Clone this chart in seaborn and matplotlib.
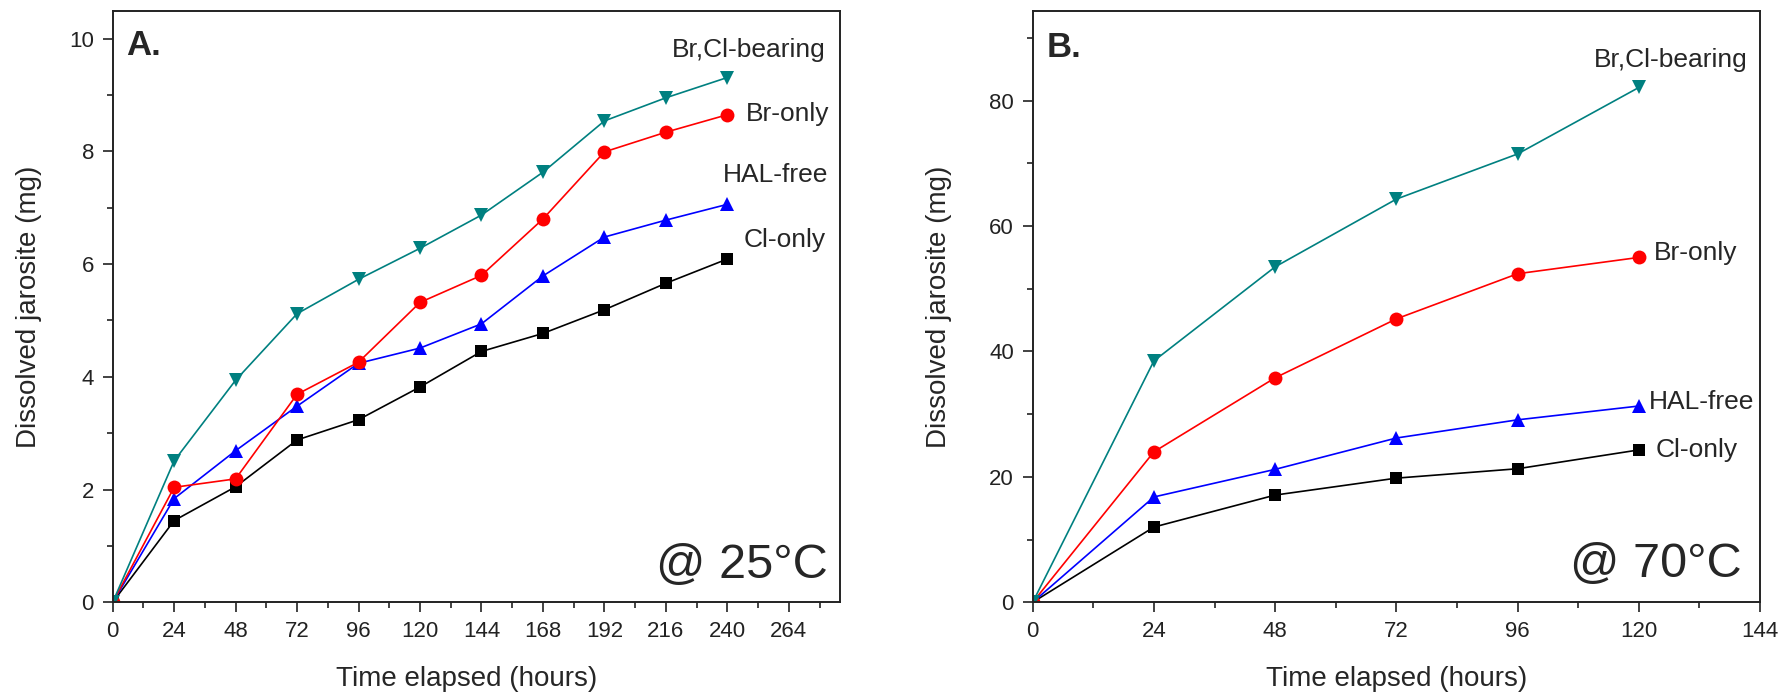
import numpy as np
import pandas as pd
import matplotlib
matplotlib.use("Agg")
import matplotlib.pyplot as plt
import seaborn as sns
from matplotlib.ticker import MultipleLocator

sns.set_theme(style="ticks")
plt.rcParams['font.family'] = ['Liberation Sans', 'DejaVu Sans']

series_names = ["Cl-only", "HAL-free", "Br-only", "Br,Cl-bearing"]

# Panel A (25 °C)
hours_a = [0, 24, 48, 72, 96, 120, 144, 168, 192, 216, 240]
cl_only_a = [0, 1.45, 2.05, 2.88, 3.24, 3.82, 4.45, 4.77, 5.19, 5.66, 6.09]
hal_free_a = [0, 1.84, 2.69, 3.48, 4.24, 4.51, 4.94, 5.79, 6.48, 6.78, 7.06]
br_only_a = [0, 2.04, 2.19, 3.69, 4.26, 5.32, 5.80, 6.80, 7.99, 8.34, 8.65]
brcl_a = [0, 2.51, 3.94, 5.12, 5.73, 6.28, 6.87, 7.63, 8.54, 8.95, 9.31]

# Panel B (70 °C)
hours_b = [0, 24, 48, 72, 96, 120]
cl_only_b = [0, 12.0, 17.1, 19.8, 21.3, 24.3]
hal_free_b = [0, 16.8, 21.2, 26.2, 29.1, 31.3]
br_only_b = [0, 24.0, 35.8, 45.2, 52.4, 55.0]
brcl_b = [0, 38.5, 53.5, 64.3, 71.5, 82.1]

xticks_a = [0, 24, 48, 72, 96, 120, 144, 168, 192, 216, 240, 264]
xticks_b = [0, 24, 48, 72, 96, 120, 144]
yticks_a = [0, 2, 4, 6, 8, 10]
yticks_b = [0, 20, 40, 60, 80]

palette = {"Cl-only": "#000000", "HAL-free": "#0000FF",
           "Br-only": "#FF0000", "Br,Cl-bearing": "#008080"}
markers = {"Cl-only": "s", "HAL-free": "^", "Br-only": "o", "Br,Cl-bearing": "v"}
marker_sizes = {"s": 8.5, "^": 9.5, "o": 10, "v": 10}


def long_df(hours, vals):
    rows = []
    for name, v in zip(series_names, vals):
        for h, y in zip(hours, v):
            rows.append({"hours": h, "mg": y, "series": name})
    return pd.DataFrame(rows)


df_a = long_df(hours_a, [cl_only_a, hal_free_a, br_only_a, brcl_a])
df_b = long_df(hours_b, [cl_only_b, hal_free_b, br_only_b, brcl_b])

W, H = 1781, 693
fig = plt.figure(figsize=(W / 100, H / 100), dpi=100)
ax_a = fig.add_axes([112.7 / W, 1 - 602.3 / H, (840 - 112.7) / W, (602.3 - 11) / H])
ax_b = fig.add_axes([1032.7 / W, 1 - 602.3 / H, (1760 - 1032.7) / W, (602.3 - 11) / H])


def draw(ax, df, xlim, ylim, xticks, yticks, xminor, yminor, ylab_x, xlab_x):
    sns.lineplot(data=df, x="hours", y="mg", hue="series", style="series",
                 hue_order=series_names, style_order=series_names,
                 palette=palette, markers=markers, dashes=False,
                 markersize=10, markeredgewidth=0, linewidth=1.2,
                 legend=False, ax=ax)
    for ln in ax.lines:
        m = ln.get_marker()
        if m in marker_sizes:
            ln.set_markersize(marker_sizes[m])
    ax.set_xlim(*xlim)
    ax.set_ylim(*ylim)
    ax.set_xticks(xticks)
    ax.set_yticks(yticks)
    ax.xaxis.set_minor_locator(MultipleLocator(xminor))
    ax.yaxis.set_minor_locator(MultipleLocator(yminor))
    ax.tick_params(which="major", direction="out", length=7.5, width=1.2,
                   labelsize=16, colors="#222222", pad=6)
    ax.tick_params(which="minor", direction="out", length=4, width=1.2, colors="#222222")
    ax.tick_params(axis="y", which="both", left=True)
    ax.tick_params(axis="x", which="both", bottom=True)
    for s in ax.spines.values():
        s.set_visible(True)
        s.set_linewidth(1.4)
        s.set_color("#222222")
    ax.set_xlabel("Time elapsed (hours)", fontsize=20)
    ax.set_ylabel("Dissolved jarosite (mg)", fontsize=20)
    ax.yaxis.set_label_coords(ylab_x, 0.5)
    ax.xaxis.set_label_coords(xlab_x, -0.108)
    ax.set_facecolor("white")


draw(ax_a, df_a, (0, 284), (0, 10.49), xticks_a, yticks_a, 12, 1, -0.097, 0.486)
draw(ax_b, df_b, (0, 144), (0, 94.3), xticks_b, yticks_b, 12, 10, -0.111, 0.5)

# Panel labels and annotations
ax_a.text(0.019, 0.926, "A.", transform=ax_a.transAxes, fontsize=25,
          fontweight="bold", va="baseline", ha="left")
ax_b.text(0.019, 0.923, "B.", transform=ax_b.transAxes, fontsize=25,
          fontweight="bold", va="baseline", ha="left")
ax_a.text(0.983, 0.041, "@ 25°C", transform=ax_a.transAxes, fontsize=35,
          va="baseline", ha="right")
ax_b.text(0.975, 0.043, "@ 70°C", transform=ax_b.transAxes, fontsize=35,
          va="baseline", ha="right")

lab_fs = 19
ax_a.text(218.5, 9.79, "Br,Cl-bearing", fontsize=lab_fs, va="center", ha="left")
ax_a.text(247.2, 8.67, "Br-only", fontsize=lab_fs, va="center", ha="left")
ax_a.text(238.1, 7.58, "HAL-free", fontsize=lab_fs, va="center", ha="left")
ax_a.text(246.5, 6.42, "Cl-only", fontsize=lab_fs, va="center", ha="left")

ax_b.text(111.1, 86.5, "Br,Cl-bearing", fontsize=lab_fs, va="center", ha="left")
ax_b.text(122.9, 55.7, "Br-only", fontsize=lab_fs, va="center", ha="left")
ax_b.text(122.0, 32.0, "HAL-free", fontsize=lab_fs, va="center", ha="left")
ax_b.text(123.3, 24.3, "Cl-only", fontsize=lab_fs, va="center", ha="left")

fig.savefig("out.png", dpi=100, facecolor="white")
